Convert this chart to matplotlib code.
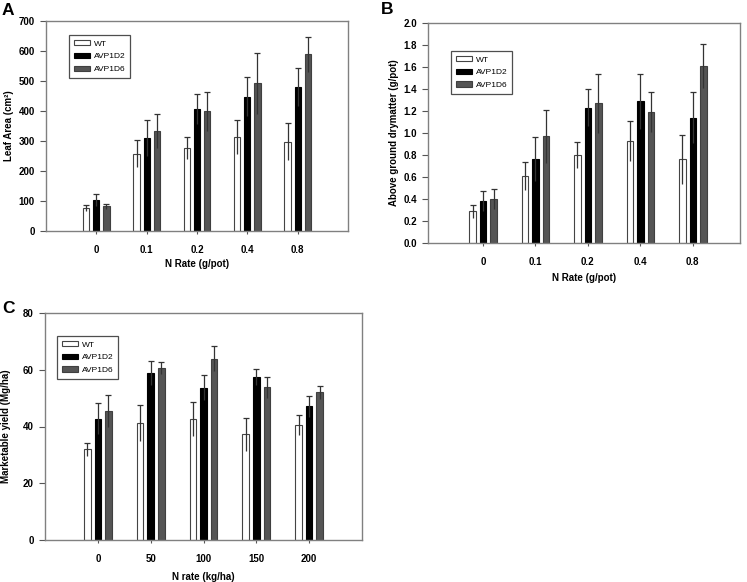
import matplotlib
matplotlib.use("Agg")
import matplotlib.pyplot as plt
import numpy as np

plt.rcParams["font.family"] = ["Liberation Sans", "DejaVu Sans"]

series = ["WT", "AVP1D2", "AVP1D6"]

# Panel A: Leaf area
a_cats = ["0", "0.1", "0.2", "0.4", "0.8"]
a_wt = [78, 258, 276, 314, 297]
a_wt_err = [10, 46, 37, 56, 62]
a_d2 = [103, 310, 406, 448, 480]
a_d2_err = [21, 59, 49, 66, 64]
a_d6 = [82, 333, 399, 492, 589]
a_d6_err = [9, 56, 65, 102, 59]

# Panel B: Above ground drymatter
b_cats = ["0", "0.1", "0.2", "0.4", "0.8"]
b_wt = [0.29, 0.61, 0.80, 0.93, 0.76]
b_wt_err = [0.06, 0.13, 0.12, 0.18, 0.22]
b_d2 = [0.38, 0.76, 1.23, 1.29, 1.14]
b_d2_err = [0.09, 0.20, 0.17, 0.25, 0.23]
b_d6 = [0.40, 0.97, 1.27, 1.19, 1.61]
b_d6_err = [0.09, 0.24, 0.27, 0.18, 0.20]

# Panel C: Marketable yield
c_cats = ["0", "50", "100", "150", "200"]
c_wt = [31.9, 41.2, 42.6, 37.2, 40.4]
c_wt_err = [2.2, 6.4, 6.1, 5.7, 3.5]
c_d2 = [42.8, 58.8, 53.6, 57.4, 47.2]
c_d2_err = [5.6, 4.3, 4.4, 2.7, 3.7]
c_d6 = [45.4, 60.5, 63.8, 53.9, 52.1]
c_d6_err = [5.7, 2.1, 4.4, 3.7, 2.3]

face = ["white", "black", "#555555"]
edge = ["#444444", "black", "#404040"]
FS = 7

fig = plt.figure(figsize=(7.47, 5.82), dpi=100)


def panel(rect, cats, vals, errs, ylim, yticks, yfmt, ylabel, xlabel, xlim,
          letter, legpos, letterpos, ylab_x, xlab_y):
    ax = fig.add_axes(rect)
    x = np.arange(len(cats))
    offs = [-0.2, 0.0, 0.2]
    w = 0.125
    for i in range(3):
        xs = x + offs[i]
        ax.bar(xs, vals[i], width=w, color=face[i], edgecolor=edge[i], linewidth=0.8,
               label=series[i], zorder=2)
        v = np.array(vals[i])
        e = np.array(errs[i])
        ax.vlines(xs, v - e, v + e, colors="#333333", linewidth=0.9, zorder=3)
        ax.plot(xs, v + e, linestyle="none", marker="_", markersize=5,
                markeredgewidth=0.9, color="#333333", zorder=3)
    ax.set_xlim(*xlim)
    ax.set_ylim(*ylim)
    ax.set_yticks(yticks)
    ax.set_yticklabels([yfmt.format(t) for t in yticks], fontsize=FS, fontweight="bold")
    ax.set_xticks(x)
    ax.set_xticklabels(cats, fontsize=FS, fontweight="bold")
    ax.tick_params(axis="y", direction="out", length=4, width=0.8, color="#555555", pad=4)
    ax.tick_params(axis="x", direction="out", length=2, width=0.8, color="#555555", pad=8)
    for s in ax.spines.values():
        s.set_color("#808080")
        s.set_linewidth(1.0)
    ax.set_ylabel(ylabel, fontsize=FS, fontweight="bold")
    ax.yaxis.set_label_coords(ylab_x, 0.5)
    ax.set_xlabel(xlabel, fontsize=FS, fontweight="bold")
    ax.xaxis.set_label_coords(0.5, xlab_y)
    leg = ax.legend(loc="upper left", bbox_to_anchor=legpos, fontsize=6,
                    frameon=True, fancybox=False, edgecolor="#222222",
                    handlelength=1.9, handleheight=0.6, borderaxespad=0,
                    labelspacing=0.62, borderpad=0.6, handletextpad=0.45)
    leg.get_frame().set_linewidth(0.9)
    fig.text(letterpos[0], letterpos[1], letter, fontsize=12.5, fontweight="bold",
             ha="left", va="top")
    return ax


panel([46 / 747, 1 - 231 / 582, 302 / 747, 210 / 582], a_cats,
      [a_wt, a_d2, a_d6], [a_wt_err, a_d2_err, a_d6_err],
      (0, 700), list(range(0, 701, 100)), "{:d}",
      "Leaf Area (cm²)", "N Rate (g/pot)", (-1.0, 5.0), "A",
      (0.076, 0.933), (2 / 747, 1 - 3 / 582), -0.106, -0.133)

panel([428 / 747, 1 - 243 / 582, 312 / 747, 220 / 582], b_cats,
      [b_wt, b_d2, b_d6], [b_wt_err, b_d2_err, b_d6_err],
      (0, 2.0), [round(0.2 * i, 1) for i in range(11)], "{:.1f}",
      "Above ground drymatter (g/pot)", "N Rate (g/pot)", (-1.05, 4.9), "B",
      (0.074, 0.873), (381 / 747, 1 - 2 / 582), -0.093, -0.136)

panel([45 / 747, 1 - 540 / 582, 317 / 747, 227 / 582], c_cats,
      [c_wt, c_d2, c_d6], [c_wt_err, c_d2_err, c_d6_err],
      (0, 80), list(range(0, 81, 20)), "{:d}",
      "Marketable yield (Mg/ha)", "N rate (kg/ha)", (-1.0, 5.0), "C",
      (0.038, 0.899), (2 / 747, 1 - 301 / 582), -0.107, -0.141)

fig.savefig("out.png", dpi=100)
